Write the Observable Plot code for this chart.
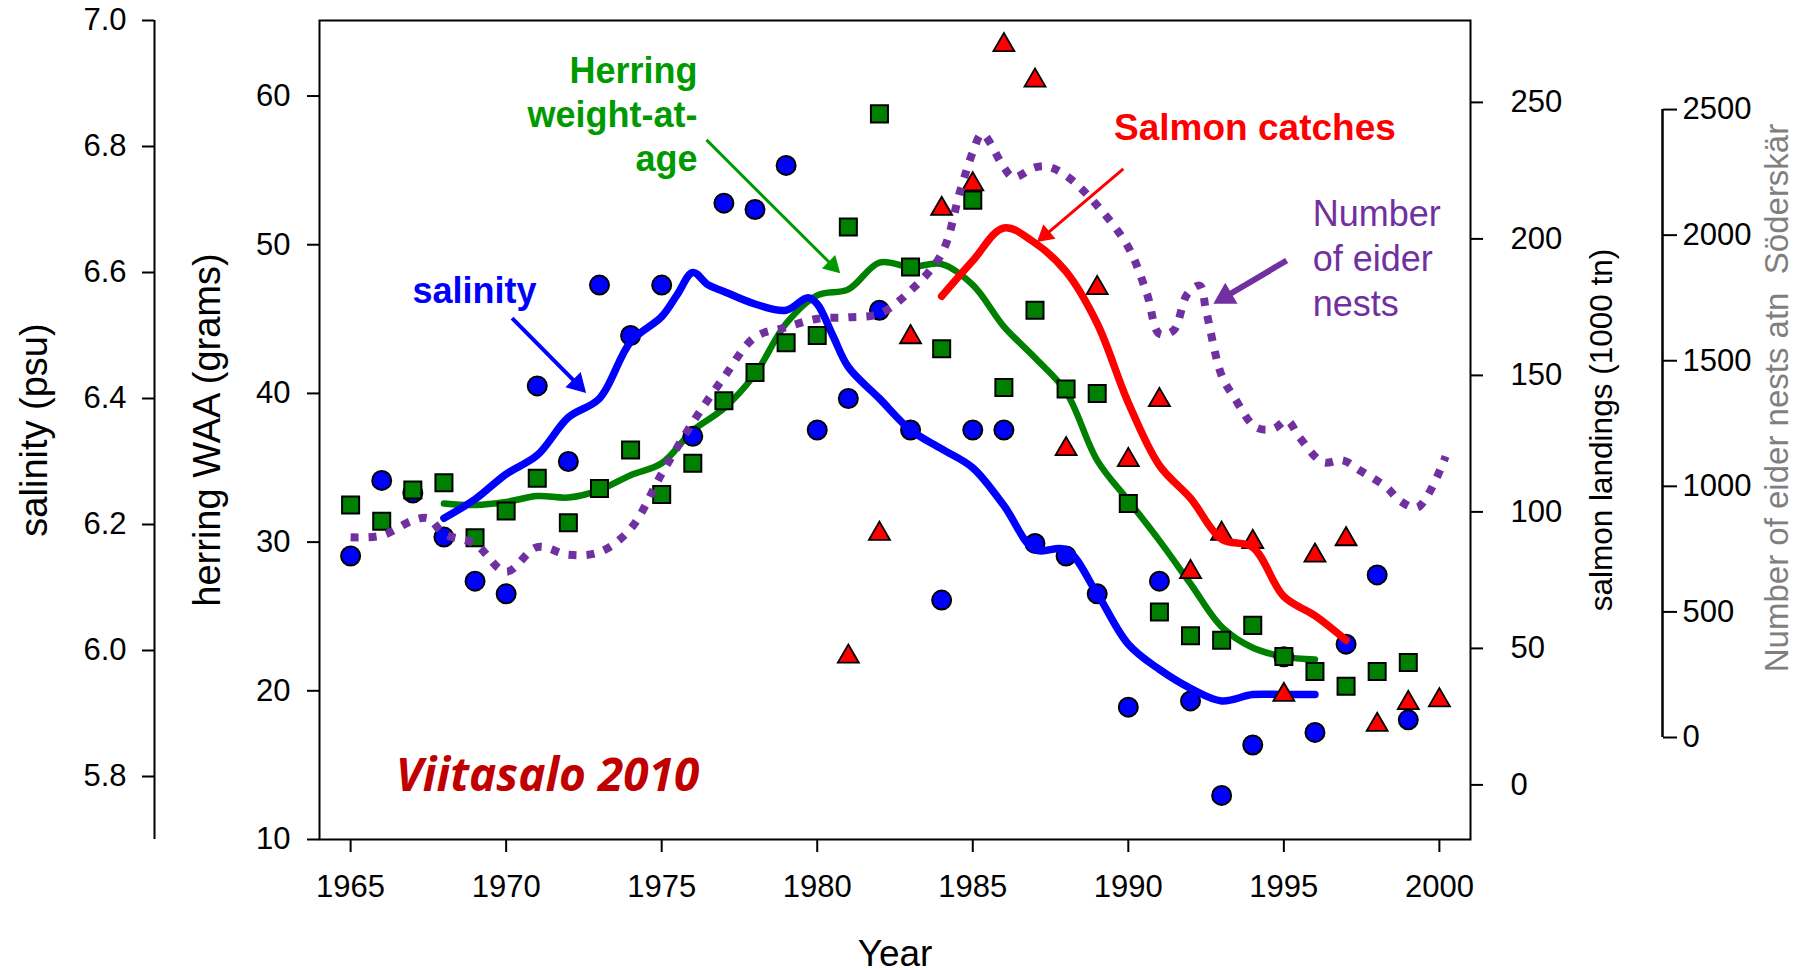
<!DOCTYPE html>
<html>
<head>
<meta charset="utf-8">
<script src="https://cdn.jsdelivr.net/npm/d3@7"></script>
<script src="https://cdn.jsdelivr.net/npm/@observablehq/plot@0.6"></script>
<style>
  html, body { margin: 0; padding: 0; background: #ffffff; }
  #chart svg { display: block; }
</style>
</head>
<body>
<div id="chart"></div>
<script>
// ---------------- DATA ----------------
const years = [1965, 1966, 1967, 1968, 1969, 1970, 1971, 1972, 1973, 1974, 1975, 1976,
  1977, 1978, 1979, 1980, 1981, 1982, 1983, 1984, 1985, 1986, 1987, 1988,
  1989, 1990, 1991, 1992, 1993, 1994, 1995, 1996, 1997, 1998, 1999, 2000];

// salinity (psu), blue circles
const salinity = [6.15, 6.27, 6.25, 6.18, 6.11, 6.09, 6.42, 6.30, 6.58, 6.50, 6.58, 6.34,
  6.71, 6.70, 6.77, 6.35, 6.40, 6.54, 6.35, 6.08, 6.35, 6.35, 6.17, 6.15,
  6.09, 5.91, 6.11, 5.92, 5.77, 5.85, 5.99, 5.87, 6.01, 6.12, 5.89, null];

// herring weight-at-age (grams), green squares
const herringWAA = [32.5, 31.4, 33.5, 34.0, 30.3, 32.1, 34.3, 31.3, 33.6, 36.2, 33.2, 35.3,
  39.5, 41.4, 43.4, 43.9, 51.2, 58.8, 48.5, 43.0, 53.0, 40.4, 45.6, 40.3,
  40.0, 32.6, 25.3, 23.7, 23.4, 24.4, 22.3, 21.3, 20.3, 21.3, 21.9, null];

// salmon landings (1000 tn), red triangles
const salmonYears = [1981, 1982, 1983, 1984, 1985, 1986, 1987, 1988, 1989, 1990,
  1991, 1992, 1993, 1994, 1995, 1996, 1997, 1998, 1999, 2000];
const salmonLandings = [47, 92, 164, 211, 220, 271, 258, 123, 182, 119,
  141, 78, 92, 89, 33, 84, 90, 22, 30, 31];

// smoothed salinity (blue line)
const salinityTrendYears = [1968, 1969, 1970, 1971, 1972, 1973, 1974, 1975, 1975.5, 1976, 1976.5,
  1977, 1978, 1979, 1979.7, 1980, 1980.5, 1981, 1982, 1983, 1984, 1985, 1986, 1987, 1988,
  1989, 1990, 1991, 1992, 1993, 1994, 1995, 1996];
const salinityTrend = [6.21, 6.24, 6.28, 6.31, 6.37, 6.40, 6.49, 6.53, 6.565, 6.60, 6.58,
  6.57, 6.55, 6.54, 6.56, 6.55, 6.50, 6.45, 6.40, 6.35, 6.32, 6.29, 6.23, 6.16, 6.16,
  6.09, 6.01, 5.97, 5.94, 5.92, 5.93, 5.93, 5.93];

// smoothed herring WAA (green line)
const herringTrendYears = [1968, 1969, 1970, 1971, 1972, 1973, 1974, 1975, 1976, 1977, 1978,
  1979, 1980, 1981, 1982, 1983, 1984, 1985, 1986, 1987, 1988, 1989, 1990, 1991, 1992,
  1993, 1994, 1995, 1996];
const herringTrend = [32.6, 32.5, 32.7, 33.1, 33.0, 33.5, 34.5, 35.3, 37.5, 39.0, 41.3,
  44.7, 46.6, 47.0, 48.8, 48.5, 48.7, 47.3, 44.5, 42.4, 40.1, 35.5, 32.8, 30.1, 27.2,
  24.3, 22.9, 22.3, 22.1];

// smoothed salmon catches (red line)
const salmonTrendYears = [1984, 1985, 1986, 1987, 1988, 1989, 1990, 1991, 1992, 1993, 1994, 1995, 1996, 1997];
const salmonTrend = [179, 192, 204, 198.5, 188, 169, 140, 117, 105, 90, 87, 69, 62, 53];

// number of eider nests at Söderskär (purple dotted line)
const eiderYears = [1965, 1966, 1967, 1967.5, 1968, 1969, 1970, 1971, 1972, 1973, 1974, 1975,
  1976, 1977, 1978, 1979, 1980, 1981, 1982, 1983, 1984, 1984.6, 1985, 1985.3, 1986, 1986.3,
  1987, 1987.4, 1988, 1989, 1990, 1990.6, 1991, 1991.45, 1991.9, 1992.3, 1992.5, 1993,
  1993.4, 1994.1, 1994.66, 1995.1, 1995.5, 1996.26, 1996.9, 1997.45, 1998.3, 1998.73,
  1999.3, 2000.2];
const eiderNests = [797, 804, 864, 872, 811, 771, 660, 758, 728, 738, 831, 1050,
  1255, 1434, 1594, 1633, 1667, 1673, 1687, 1779, 1926, 2178, 2330, 2403, 2270, 2230,
  2270, 2273, 2237, 2118, 1952, 1766, 1607, 1620, 1766, 1799, 1700, 1441,
  1355, 1235, 1229, 1262, 1195, 1096, 1103, 1063, 996, 943,
  916, 1119];

// tick values
const xTicks = [1965, 1970, 1975, 1980, 1985, 1990, 1995, 2000];
const herringTicks = [10, 20, 30, 40, 50, 60];
const salinityTicks = [5.8, 6.0, 6.2, 6.4, 6.6, 6.8, 7.0];
const salmonTicks = [0, 50, 100, 150, 200, 250];
const eiderTicks = [0, 500, 1000, 1500, 2000, 2500];

// ---------------- secondary axes mapped onto the herring (primary) scale ----------------
const H0 = 10, H1 = 65.08;                      // herring WAA domain of the frame
const SAL = [5.7, 7.0];                         // salinity range over the frame
const SALMON = [-20, 280];                      // salmon range over the frame
const EIDER_H = [16.86, 59.09];                 // herring-equivalent of eider 0 and 2500
const lin = (d0, d1, r0, r1) => v => r0 + (v - d0) / (d1 - d0) * (r1 - r0);
const salToH = lin(SAL[0], SAL[1], H0, H1), hToSal = lin(H0, H1, SAL[0], SAL[1]);
const salmonToH = lin(SALMON[0], SALMON[1], H0, H1), hToSalmon = lin(H0, H1, SALMON[0], SALMON[1]);
const eiderToH = lin(0, 2500, EIDER_H[0], EIDER_H[1]), hToEider = lin(EIDER_H[0], EIDER_H[1], 0, 2500);

// ---------------- tables ----------------
const obs = years.map((year, i) => ({year, salinity: salinity[i], herring: herringWAA[i]}));
const salObs = obs.filter(d => d.salinity != null);
const herObs = obs.filter(d => d.herring != null);
const salmonObs = salmonYears.map((year, i) => ({year, value: salmonLandings[i]}));
const salTrend = salinityTrendYears.map((year, i) => ({year, value: salinityTrend[i]}));
const herTrend = herringTrendYears.map((year, i) => ({year, value: herringTrend[i]}));
const salmTrend = salmonTrendYears.map((year, i) => ({year, value: salmonTrend[i]}));
const eidTrend = eiderYears.map((year, i) => ({year, value: eiderNests[i]}));

// annotations (anchor points in data units: year, herring-axis grams)
const labels = [
  {text: "salinity", x: 1968.98, y: 46.05, fill: "#0000ff", anchor: "middle", weight: "bold", size: 36, lh: 1},
  {text: "Herring\nweight-at-\nage", x: 1976.15, y: 54.99, fill: "#009a00", anchor: "end", weight: "bold", size: 36, lh: 1.222},
  {text: "Salmon catches", x: 1994.07, y: 57.05, fill: "#ff0000", anchor: "middle", weight: "bold", size: 37, lh: 1},
  {text: "Number\nof eider\nnests", x: 1995.93, y: 45.24, fill: "#7030a0", anchor: "start", weight: "normal", size: 36, lh: 1.25}
];
const arrows = [
  {x1: 1970.19, y1: 45.07, x2: 1972.29, y2: 40.63, color: "#0000ff", w: 4, r: 8, rot: 135.4},
  {x1: 1976.44, y1: 57.05, x2: 1980.49, y2: 48.60, color: "#009a00", w: 3, r: 7, rot: 134.8},
  {x1: 1989.84, y1: 55.10, x2: 1987.33, y2: 50.65, color: "#ff0000", w: 3, r: 7, rot: -130.3},
  {x1: 1995.09, y1: 48.94, x2: 1993.12, y2: 46.50, color: "#7030a0", w: 6, r: 9, rot: -120.5}
];

const FONT = '"Liberation Sans", Arial, Helvetica, sans-serif';
const fmt1 = h => hToSal(h).toFixed(1);
const fmt0s = h => String(Math.round(hToSalmon(h)));
const fmt0e = h => String(Math.round(hToEider(h)));

const plot = Plot.plot({
  width: 1805,
  height: 970,
  marginLeft: 319,
  marginRight: 335,
  marginTop: 20,
  marginBottom: 131,
  x: {domain: [1964, 2001]},
  y: {domain: [H0, H1]},
  style: {fontFamily: FONT, background: "#ffffff", overflow: "visible", color: "black"},
  marks: [
    // axes
    Plot.axisX(xTicks, {tickSize: 13, tickPadding: 22, fontSize: 31, strokeWidth: 2, label: null, tickFormat: d => String(d)}),
    Plot.axisY(herringTicks, {anchor: "left", tickSize: 12, tickPadding: 17, fontSize: 31, strokeWidth: 2, label: null, tickFormat: d => String(d)}),
    Plot.axisY(salinityTicks.map(salToH), {anchor: "left", dx: -165, tickSize: 12, tickPadding: 16, fontSize: 31, strokeWidth: 2, label: null, tickFormat: fmt1}),
    Plot.ruleX([1964], {dx: -165, stroke: "black", strokeWidth: 2}),
    Plot.axisY(salmonTicks.map(salmonToH), {anchor: "right", tickSize: 12, tickPadding: 28, fontSize: 31, strokeWidth: 2, label: null, tickFormat: fmt0s}),
    Plot.axisY(eiderTicks.map(eiderToH), {anchor: "right", dx: 192, tickSize: 14, tickPadding: 6, fontSize: 31, strokeWidth: 2, label: null, tickFormat: fmt0e}),
    Plot.ruleX([2001], {y1: eiderToH(0), y2: eiderToH(2500), dx: 192, stroke: "black", strokeWidth: 2.5}),

    // axis titles
    Plot.text(["salinity (psu)"], {frameAnchor: "left", dx: -273, rotate: -90, fontSize: 38, lineAnchor: "bottom", textAnchor: "middle", fill: "black"}),
    Plot.text(["herring WAA (grams)"], {frameAnchor: "left", dx: -100, rotate: -90, fontSize: 38, lineAnchor: "bottom", textAnchor: "middle", fill: "black"}),
    Plot.text(["salmon landings (1000 tn)"], {frameAnchor: "right", dx: 141, rotate: -90, fontSize: 31.5, lineAnchor: "bottom", textAnchor: "middle", fill: "black"}),
    Plot.text(["Number of eider nests atn\u00a0 Söderskär"], {frameAnchor: "right", dx: 317, dy: -32, rotate: -90, fontSize: 33, lineAnchor: "bottom", textAnchor: "middle", fill: "#7f7f7f"}),
    Plot.text(["Year"], {frameAnchor: "bottom", dy: 126, fontSize: 37, lineAnchor: "bottom", textAnchor: "middle", fill: "black"}),

    // herring trend (under the markers)
    Plot.line(herTrend, {x: "year", y: "value", stroke: "#008000", strokeWidth: 6.5, curve: "catmull-rom"}),
    // salinity observations
    Plot.dot(salObs, {x: "year", y: d => salToH(d.salinity), r: 9.5, fill: "#0000ff", stroke: "black", strokeWidth: 2}),
    // salinity trend
    Plot.line(salTrend, {x: "year", y: d => salToH(d.value), stroke: "#0000ff", strokeWidth: 7.5, curve: "catmull-rom"}),
    // herring observations
    Plot.dot(herObs, {x: "year", y: "herring", symbol: "square", r: 9.6, fill: "#008000", stroke: "black", strokeWidth: 2}),
    // salmon observations
    Plot.dot(salmonObs, {x: "year", y: d => salmonToH(d.value), symbol: "triangle", r: 7.8, fill: "#ff0000", stroke: "black", strokeWidth: 1.8}),
    // salmon trend
    Plot.line(salmTrend, {x: "year", y: d => salmonToH(d.value), stroke: "#ff0000", strokeWidth: 7.5, strokeLinecap: "round", curve: "catmull-rom"}),
    // eider trend
    Plot.line(eidTrend, {x: "year", y: d => eiderToH(d.value), stroke: "#7030a0", strokeWidth: 8, strokeDasharray: "8,10", strokeLinecap: "butt", curve: "catmull-rom"}),

    // annotation arrows: shaft + filled triangular head
    Plot.link(arrows, {x1: "x1", y1: "y1", x2: "x2", y2: "y2", stroke: d => d.color, strokeWidth: d => d.w}),
    ...arrows.map(a => Plot.dot([a], {x: "x2", y: "y2", symbol: "triangle", r: a.r, rotate: a.rot, fill: a.color, stroke: "none"})),

    // annotation labels
    ...labels.map(l => Plot.text([l], {x: "x", y: "y", text: "text", fill: l.fill, textAnchor: l.anchor, lineAnchor: "bottom",
      fontWeight: l.weight, fontSize: l.size, lineHeight: l.lh})),
    Plot.text(["Viitasalo 2010"], {x: () => 1966.45, y: () => 13.25, textAnchor: "start", lineAnchor: "bottom", fontSize: 46,
      fontWeight: "bold", fontStyle: "italic", fill: "#c00000", fontFamily: "'Open Sans', Lato, sans-serif"}),

    // frame on top
    Plot.frame({stroke: "black", strokeWidth: 2})
  ]
});

document.getElementById("chart").appendChild(plot);
</script>
</body>
</html>
